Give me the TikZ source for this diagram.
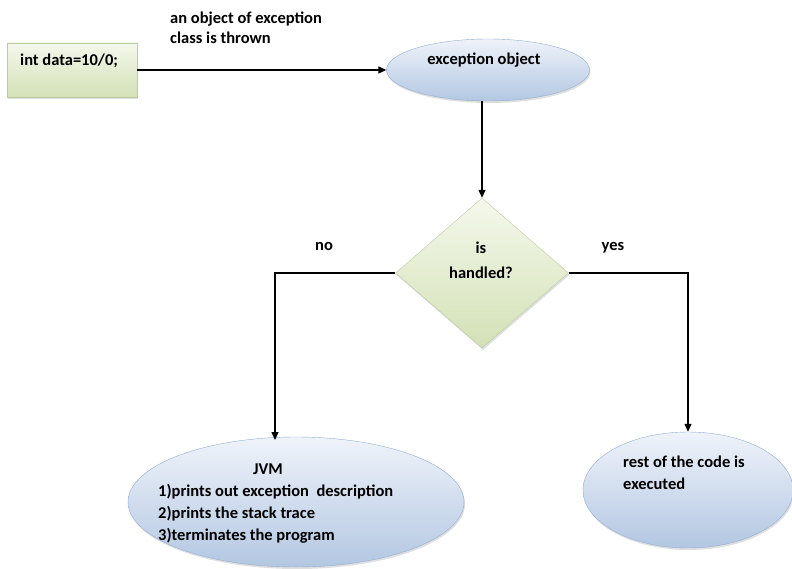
\documentclass[tikz,border=0pt]{standalone}
\usepackage{fontspec}
\setmainfont{Carlito}
\usetikzlibrary{shapes.geometric, arrows.meta, positioning, shadows}
\definecolor{BoxTop}{HTML}{F4F8EC}
\definecolor{BoxBottom}{HTML}{D3E1B6}
\definecolor{BoxLine}{HTML}{BCCB9E}
\definecolor{EllTop}{HTML}{EFF3FA}
\definecolor{EllBottom}{HTML}{B3C7E2}
\definecolor{EllLine}{HTML}{92ADD2}

\begin{document}
\begin{tikzpicture}[x=1pt,y=-1pt,
			every node/.style={font=\bfseries\fontsize{16.5}{22}\selectfont, inner sep=0pt},
			codebox/.style={draw=BoxLine,rectangle,top color=BoxTop,bottom color=BoxBottom,
				drop shadow={shadow xshift=1pt,shadow yshift=-2pt,opacity=0.25}},
			bubble/.style={draw=EllLine,ellipse,top color=EllTop,bottom color=EllBottom,
				drop shadow={shadow xshift=1pt,shadow yshift=-2pt,opacity=0.25}},
			choice/.style={draw=BoxLine,diamond,top color=BoxTop,bottom color=BoxBottom,
				drop shadow={shadow xshift=1pt,shadow yshift=-2pt,opacity=0.25}},
			flow/.style={line width=1.3pt,-{Triangle[length=8pt,width=7pt]}}
		]
			\useasboundingbox (0,0) rectangle (792,569);

			% shapes
			\node (code) [codebox,minimum width=130pt,minimum height=54pt] at (72,70) {};
			\node (codetext) [anchor=base west] at (20,66) {int data=10/0;};

			\node (exc) [bubble,minimum width=203pt,minimum height=62pt] at (488,70) {};
			\node (exctext) [anchor=base] at (484,65) {exception object};

			\node (decision) [choice,minimum width=173pt,minimum height=150pt] at (482,273) {};
			\node (decisiontext) [align=center,anchor=north] at (481,242) {is\\[3pt]handled?};

			\node (jvm) [bubble,minimum width=336pt,minimum height=130pt] at (296,502) {};
			\node (jvmtext) [align=left,anchor=north west] at (158,464)
			{\hspace*{95pt}JVM\\
			1)prints out exception~ description\\
			2)prints the stack trace\\
			3)terminates the program};

			\node (rest) [bubble,minimum width=210pt,minimum height=116pt] at (688,490) {};
			\node (resttext) [align=left,anchor=north west] at (623,456)
			{rest of the code is\\executed};

			% labels
			\node (thrown) [align=left,anchor=north west] at (170,12)
			{an object of exception\\[-2pt]class is thrown};
			\node (no) [anchor=base] at (324,251) {no};
			\node (yes) [anchor=base] at (613,251) {yes};

			% connectors
			\coordinate (excfoot) at (482,101);
			\coordinate (nofoot) at (275,440);
			\draw[flow] (code.east) -- (exc.west);
			\draw[flow] (excfoot) -- (decision.north);
			\draw[flow] (decision.west) -| (nofoot);
			\draw[flow] (decision.east) -| (rest.north);
		\end{tikzpicture}
\end{document}
